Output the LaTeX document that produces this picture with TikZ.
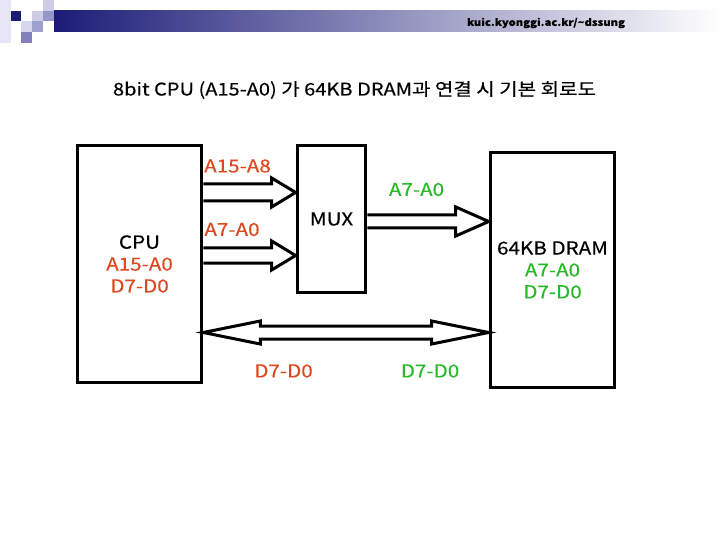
\documentclass[tikz,border=0pt]{standalone}
\usepackage{fontspec}
\setmainfont[FakeStretch=1.15,FakeBold=0.4]{Noto Sans CJK KR}
\usetikzlibrary{calc,positioning}
\definecolor{AddrRed}{RGB}{222,72,32}
\definecolor{DramGreen}{RGB}{40,185,40}
\definecolor{HeadNavy}{RGB}{28,28,120}
\definecolor{HeadLight}{RGB}{205,205,232}
\definecolor{HeadMid}{RGB}{150,150,200}

% hollow bus arrow: start, end, shaft half width, head length
\newcommand{\busarrow}[4]{%
  \draw[bus] let \p1=(#1), \p2=(#2) in
    (\x1,\y1+#3) -- (\x2-#4,\y1+#3) -- (\x2-#4,\y1+14.5bp) -- (\x2,\y1)
    -- (\x2-#4,\y1-14.5bp) -- (\x2-#4,\y1-#3) -- (\x1,\y1-#3);}
% two-way data bus
\newcommand{\busboth}[2]{%
  \draw[bus] let \p1=(#1), \p2=(#2) in
    (\x1,\y1) -- (\x1+57bp,\y1+11.5bp) -- (\x1+57bp,\y1+6.5bp)
    -- (\x2-57bp,\y1+6.5bp) -- (\x2-57bp,\y1+11.5bp) -- (\x2,\y1)
    -- (\x2-57bp,\y1-11.5bp) -- (\x2-57bp,\y1-6.5bp)
    -- (\x1+57bp,\y1-6.5bp) -- (\x1+57bp,\y1-11.5bp) -- cycle;}

\begin{document}
\begin{tikzpicture}[x=1bp,y=-1bp,
  blk/.style={rectangle,draw=black,line width=3bp,align=center,font=\fontsize{18}{22}\selectfont,inner sep=0pt},
  bus/.style={draw=black,line width=3bp,fill=white},
  lbl/.style={font=\fontsize{18}{20}\selectfont,inner sep=0pt}
]
  \useasboundingbox (0,0) rectangle (720,540);
  % header band
  \shade[left color=HeadNavy,right color=white] (54,10.7) rectangle (720,32);
  \fill[HeadLight!50] (0,0) rectangle (10.7,43);
  \fill[HeadNavy] (10.7,10.7) rectangle (21.3,21.3);
  \fill[HeadLight] (32,10.7) rectangle (43,21.3);
  \fill[HeadLight] (43,0) rectangle (54,10.7);
  \fill[HeadMid] (43,10.7) rectangle (54,21.3);
  \fill[HeadLight!80] (21.3,21.3) rectangle (32,32);
  \fill[HeadMid!90] (32,21.3) rectangle (43,32);
  \fill[HeadMid!120] (21.3,32) rectangle (32,43);
  \node[font=\bfseries\fontsize{9.8}{12}\selectfont,inner sep=0pt] (site) at (546,23) {kuic.kyonggi.ac.kr/\textasciitilde dssung};

  \node[lbl,font=\fontsize{17.5}{20}\selectfont] (title) at (354.5,90) {8bit CPU (A15-A0) 가 64KB DRAM과 연결 시 기본 회로도};

  % blocks
  \node[blk,minimum width=125,minimum height=238] (cpu) at (139.5,264)
    {CPU\\\textcolor{AddrRed}{A15-A0}\\\textcolor{AddrRed}{D7-D0}};
  \node[blk,minimum width=69,minimum height=148] (mux) at (331.5,219) {MUX};
  \node[blk,minimum width=125,minimum height=236] (dram) at (552.5,270)
    {64KB DRAM\\\textcolor{DramGreen}{A7-A0}\\\textcolor{DramGreen}{D7-D0}};

  % bus levels
  \coordinate (yhi) at (0,192.5);
  \coordinate (ylo) at (0,255.5);
  \coordinate (yrow) at (0,221.5);
  \coordinate (ydat) at (0,332.5);

  \busarrow{cpu.east |- yhi}{mux.west |- yhi}{8.5bp}{24bp}
  \busarrow{cpu.east |- ylo}{mux.west |- ylo}{7.5bp}{24bp}
  \busarrow{mux.east |- yrow}{dram.west |- yrow}{6.5bp}{33bp}
  \busboth{cpu.east |- ydat}{dram.west |- ydat}

  % bus labels
  \node[lbl,text=AddrRed] (lhi) at (237.5,166) {A15-A8};
  \node[lbl,text=AddrRed] (llo) at (232,229.5) {A7-A0};
  \node[lbl,text=DramGreen] (lrow) at (416.5,189.5) {A7-A0};
  \node[lbl,text=AddrRed] (ldcpu) at (283.5,371) {D7-D0};
  \node[lbl,text=DramGreen] (lddram) at (430,371) {D7-D0};
\end{tikzpicture}
\end{document}
